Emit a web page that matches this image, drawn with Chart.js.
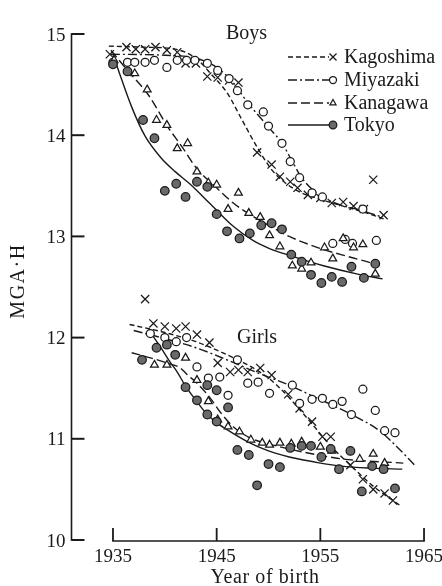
<!DOCTYPE html>
<html>
<head>
<meta charset="utf-8">
<script src="https://cdn.jsdelivr.net/npm/chart.js@4.4.1/dist/chart.umd.min.js"></script>
<style>
  html, body { margin: 0; padding: 0; background: #fff; }
  #wrap { width: 442px; height: 586px; }
</style>
</head>
<body>
<div id="wrap"><canvas id="c" width="442" height="586"></canvas></div>
<script>
// ---- data -------------------------------------------------------------
const prefectures = ['Kagoshima', 'Miyazaki', 'Kanagawa', 'Tokyo'];
const groupLabels = ['Boys', 'Girls'];
const xTicks = [1935, 1945, 1955, 1965];
const yTicks = [10, 11, 12, 13, 14, 15];
const xTitle = 'Year of birth';
const yTitle = 'MGA\u00B7H';

// observed values: [year of birth, MGA·H]
const boysKagoshima = [[1935,15.18],[1934.7,14.80],[1936.3,14.87],[1937.2,14.85],[1938.1,14.85],[1939.1,14.87],[1940.2,14.84],[1941.2,14.82],[1942,14.71],[1943,14.71],[1944.1,14.58],[1945.1,14.57],[1946.2,14.54],[1947.1,14.52],[1948.9,13.83],[1950.3,13.71],[1951.1,13.59],[1952.1,13.54],[1952.8,13.48],[1953.8,13.41],[1955,13.38],[1956.1,13.33],[1957.2,13.34],[1958.2,13.30],[1959.2,13.27],[1960.1,13.56],[1961.1,13.21]];
const boysMiyazaki = [[1935,14.72],[1936.4,14.72],[1937.1,14.72],[1938.1,14.72],[1939,14.74],[1940.2,14.67],[1941.2,14.74],[1942.1,14.74],[1942.9,14.74],[1944.1,14.71],[1945.1,14.64],[1946.2,14.56],[1947,14.44],[1948,14.30],[1949.5,14.23],[1950,14.09],[1951.3,13.92],[1952.1,13.74],[1953,13.58],[1954.2,13.43],[1955.2,13.39],[1956.2,12.93],[1957.4,12.97],[1958.1,12.93],[1959.1,13.27],[1960.4,12.96]];
const boysKanagawa = [[1935.1,14.74],[1937.1,14.61],[1938.3,14.45],[1939.2,14.15],[1940.2,14.10],[1941.2,13.87],[1942.2,13.92],[1943.1,13.64],[1944.2,13.53],[1945,13.51],[1946.1,13.27],[1947.1,13.43],[1948.1,13.23],[1949.2,13.19],[1950.1,13.01],[1951.1,12.90],[1952.3,12.71],[1953.2,12.68],[1954.1,12.74],[1955.4,12.89],[1956.2,12.78],[1957.2,12.98],[1958.2,12.89],[1959.1,12.92],[1960.3,12.63]];
const boysTokyo = [[1935,14.70],[1936.4,14.63],[1937.9,14.15],[1939,13.97],[1940,13.45],[1941.1,13.52],[1942,13.39],[1943.1,13.54],[1944.1,13.49],[1945,13.22],[1946,13.05],[1947.2,12.98],[1948.2,13.03],[1949.3,13.11],[1950.3,13.13],[1951.3,13.07],[1952.2,12.82],[1953.2,12.75],[1954.1,12.62],[1955.1,12.54],[1956.1,12.60],[1957.1,12.55],[1958,12.70],[1959.2,12.59],[1960.3,12.73]];

const girlsKagoshima = [[1938.1,12.38],[1938.9,12.14],[1940,12.11],[1941.1,12.09],[1942,12.11],[1943.1,12.03],[1944.3,11.95],[1945.1,11.75],[1946.3,11.66],[1947.1,11.68],[1948,11.66],[1949.2,11.70],[1950.3,11.63],[1951.9,11.44],[1953,11.30],[1954.2,11.17],[1955.2,11.02],[1956,11.02],[1957.9,10.74],[1959.1,10.60],[1960.1,10.50],[1961.2,10.46],[1962,10.39]];
const girlsMiyazaki = [[1938.6,12.04],[1940,12.00],[1941.1,11.96],[1942.1,12.00],[1943.1,11.71],[1944.2,11.60],[1945.3,11.61],[1946.1,11.43],[1947,11.78],[1948,11.55],[1949,11.56],[1950.1,11.45],[1952.3,11.53],[1953,11.35],[1954.2,11.39],[1955.2,11.40],[1956.2,11.34],[1957.1,11.37],[1958,11.24],[1959.1,11.49],[1960.3,11.28],[1961.2,11.08],[1962.2,11.06]];
const girlsKanagawa = [[1939,11.73],[1940.2,11.73],[1942,11.80],[1943.1,11.58],[1944.2,11.37],[1945.1,11.19],[1946.1,11.12],[1947.2,11.07],[1948.3,10.99],[1949.4,10.96],[1950.1,10.94],[1951.1,10.96],[1952.2,10.95],[1953.2,10.97],[1955,10.92],[1956.1,10.88],[1958.8,10.80],[1960.1,10.85],[1961.2,10.76]];
const girlsTokyo = [[1937.8,11.78],[1939.2,11.90],[1940.2,11.93],[1941,11.83],[1942,11.51],[1943.1,11.38],[1944.1,11.24],[1944.1,11.53],[1945,11.17],[1945,11.48],[1946.1,11.31],[1947,10.89],[1948.1,10.84],[1948.9,10.54],[1950,10.75],[1951.1,10.72],[1952.1,10.91],[1953.2,10.93],[1954.1,10.93],[1955.1,10.82],[1956,10.90],[1956.8,10.70],[1957.9,10.88],[1959,10.48],[1960,10.73],[1961.1,10.70],[1962.2,10.51]];

// fitted trend curves: [year of birth, MGA·H]
const boysKagoshimaFit = [[1934.6,14.88],[1938,14.87],[1941,14.85],[1943,14.76],[1944.5,14.60],[1946,14.42],[1947.4,14.16],[1948.8,13.90],[1950.3,13.66],[1951.6,13.53],[1953.2,13.43],[1955.2,13.36],[1957.5,13.29],[1959.5,13.23],[1961.2,13.17]];
const boysMiyazakiFit = [[1934.8,14.80],[1940,14.79],[1943,14.76],[1945,14.67],[1946.5,14.53],[1948,14.32],[1950,14.08],[1951.3,13.92],[1952.3,13.74],[1953.2,13.58],[1954.5,13.44],[1956.4,13.33],[1958.8,13.26],[1961,13.19]];
const boysKanagawaFit = [[1934.8,14.84],[1936.4,14.64],[1938.4,14.40],[1940.3,14.08],[1941.7,13.88],[1943,13.68],[1945,13.48],[1946.6,13.33],[1948,13.23],[1950,13.11],[1952,13.00],[1955.3,12.87],[1957,12.82],[1959.5,12.75],[1960.5,12.72]];
const boysTokyoFit = [[1935,14.80],[1935.6,14.62],[1936.8,14.28],[1938.1,13.99],[1939.6,13.78],[1941,13.64],[1942.4,13.52],[1944.4,13.32],[1946.6,13.10],[1948.5,12.96],[1950.1,12.88],[1952.1,12.81],[1955.3,12.71],[1958.5,12.63],[1961,12.58]];

const girlsKagoshimaFit = [[1936.6,12.13],[1940,12.05],[1943,11.96],[1946,11.83],[1948,11.73],[1950,11.60],[1951.5,11.46],[1953,11.29],[1954.5,11.11],[1956,10.93],[1958,10.73],[1960,10.54],[1962,10.39],[1962.7,10.34]];
const girlsMiyazakiFit = [[1937,12.07],[1940,11.99],[1943,11.90],[1946,11.78],[1949,11.65],[1952,11.53],[1954.3,11.42],[1956,11.34],[1958,11.24],[1960.7,11.08],[1962.4,10.92],[1964.1,10.74]];
const girlsKanagawaFit = [[1936.8,11.85],[1938.6,11.80],[1940.5,11.74],[1941.5,11.70],[1942.1,11.64],[1943.1,11.55],[1944.4,11.40],[1945.3,11.27],[1946.6,11.12],[1948.2,11.01],[1950,10.95],[1953.3,10.87],[1957.2,10.80],[1963,10.76]];
const girlsTokyoFit = [[1938.4,12.08],[1939.5,11.92],[1940.5,11.76],[1941.2,11.66],[1942,11.52],[1943,11.38],[1944,11.25],[1945,11.16],[1946,11.09],[1948,10.97],[1950,10.88],[1952,10.82],[1955,10.76],[1957,10.73],[1960,10.71],[1962.9,10.70]];

// ---- styling ----------------------------------------------------------
const ink = '#1a1a1a';
const serif = '"Liberation Serif", "DejaVu Serif", serif';

const styles = {
  Kagoshima: { dash: [5, 3],        point: 'crossRot', radius: 5.8, keyRadius: 5,   fill: 'rgba(0,0,0,0)' },
  Miyazaki:  { dash: [9, 3, 2, 3],  point: 'circle',   radius: 4,   keyRadius: 3.5, fill: '#ffffff' },
  Kanagawa:  { dash: [9, 4],        point: 'triangle', radius: 4.5, keyRadius: 3.5, fill: '#ffffff' },
  Tokyo:     { dash: [],            point: 'circle',   radius: 4.3, keyRadius: 3.8, fill: '#6a6a6a' }
};

const observed = {
  Boys:  { Kagoshima: boysKagoshima,  Miyazaki: boysMiyazaki,  Kanagawa: boysKanagawa,  Tokyo: boysTokyo },
  Girls: { Kagoshima: girlsKagoshima, Miyazaki: girlsMiyazaki, Kanagawa: girlsKanagawa, Tokyo: girlsTokyo }
};
const fitted = {
  Boys:  { Kagoshima: boysKagoshimaFit,  Miyazaki: boysMiyazakiFit,  Kanagawa: boysKanagawaFit,  Tokyo: boysTokyoFit },
  Girls: { Kagoshima: girlsKagoshimaFit, Miyazaki: girlsMiyazakiFit, Kanagawa: girlsKanagawaFit, Tokyo: girlsTokyoFit }
};

const toXY = arr => arr.map(([x, y]) => ({ x, y }));

const datasets = [];
groupLabels.forEach(group => {
  prefectures.forEach(pref => {
    const s = styles[pref];
    datasets.push({
      label: group + ' ' + pref + ' trend',
      data: toXY(fitted[group][pref]),
      showLine: true,
      borderColor: ink,
      borderWidth: 1.4,
      borderDash: s.dash,
      cubicInterpolationMode: 'monotone',
      pointRadius: 0,
      pointHoverRadius: 0,
      fill: false,
      clip: false,
      order: 2
    });
  });
});
groupLabels.forEach(group => {
  prefectures.slice().reverse().forEach(pref => {
    const s = styles[pref];
    datasets.push({
      label: group + ' ' + pref,
      data: toXY(observed[group][pref]),
      showLine: false,
      pointStyle: s.point,
      pointRadius: s.radius,
      pointHoverRadius: s.radius,
      pointBorderWidth: 1.25,
      pointBorderColor: ink,
      pointBackgroundColor: s.fill,
      clip: false,
      order: 1
    });
  });
});

// ---- axes, labels and key drawn on the chart's own scales -------------
const frame = {
  id: 'frame',
  beforeDatasetsDraw(chart) {
    const { ctx, chartArea, scales: { x, y } } = chart;
    ctx.save();
    ctx.strokeStyle = ink;
    ctx.lineCap = 'butt';
    // vertical axis with inward ticks
    const ax = chartArea.left;
    ctx.lineWidth = 1.6;
    ctx.beginPath();
    ctx.moveTo(ax, y.getPixelForValue(yTicks[yTicks.length - 1]) - 0.8);
    ctx.lineTo(ax, y.getPixelForValue(yTicks[0]) + 0.8);
    ctx.stroke();
    ctx.lineWidth = 2;
    yTicks.forEach(v => {
      const py = y.getPixelForValue(v);
      ctx.beginPath(); ctx.moveTo(ax, py); ctx.lineTo(ax + 13, py); ctx.stroke();
    });
    // horizontal axis with upward ticks, spanning the labelled years only
    const ay = chartArea.bottom + 1;
    ctx.lineWidth = 1.6;
    ctx.beginPath();
    ctx.moveTo(x.getPixelForValue(xTicks[0]) - 0.8, ay);
    ctx.lineTo(x.getPixelForValue(xTicks[xTicks.length - 1]) + 0.8, ay);
    ctx.stroke();
    ctx.lineWidth = 1.8;
    xTicks.forEach(v => {
      const px = x.getPixelForValue(v);
      ctx.beginPath(); ctx.moveTo(px, ay); ctx.lineTo(px, ay - 13); ctx.stroke();
    });
    ctx.restore();
  },
  afterDraw(chart) {
    const { ctx, chartArea, scales: { x, y } } = chart;
    ctx.save();
    ctx.fillStyle = ink;
    // tick labels
    ctx.font = '19px ' + serif;
    ctx.textAlign = 'right';
    ctx.textBaseline = 'alphabetic';
    yTicks.forEach(v => ctx.fillText(String(v), chartArea.left - 6, y.getPixelForValue(v) + 6.5));
    ctx.textAlign = 'center';
    xTicks.forEach(v => ctx.fillText(String(v), x.getPixelForValue(v), chartArea.bottom + 22));
    // axis titles
    ctx.font = '20px ' + serif;
    ctx.letterSpacing = '0.6px';
    ctx.fillText(xTitle, 265, 583);
    ctx.save();
    ctx.translate(24, 281);
    ctx.rotate(-Math.PI / 2);
    ctx.letterSpacing = '1.5px';
    ctx.fillText(yTitle, 0, 0);
    ctx.restore();
    ctx.letterSpacing = '0px';
    // panel labels
    ctx.textAlign = 'left';
    ctx.font = '20px ' + serif;
    ctx.fillText(groupLabels[0], 226, 39);
    ctx.fillText(groupLabels[1], 237, 343);
    // key
    const rowBase = [63, 86, 109, 131];
    prefectures.forEach((pref, i) => {
      const s = styles[pref];
      const ly = rowBase[i] - 6;
      ctx.strokeStyle = ink;
      ctx.lineWidth = 1.4;
      ctx.setLineDash(s.dash);
      ctx.beginPath(); ctx.moveTo(288, ly); ctx.lineTo(329, ly); ctx.stroke();
      ctx.setLineDash([]);
      ctx.fillStyle = s.fill;
      ctx.lineWidth = 1.25;
      Chart.helpers.drawPoint(ctx, { pointStyle: s.point, radius: s.keyRadius, borderWidth: 1.25, rotation: 0 }, 333, ly);
      ctx.fillStyle = ink;
      ctx.fillText(pref, 344, rowBase[i]);
    });
    ctx.restore();
  }
};

// x: 1931–1966 puts 1935 at 113 px and 1965 at 424 px; y: 10–15 spans 540–34 px
new Chart(document.getElementById('c'), {
  type: 'scatter',
  data: { datasets },
  options: {
    responsive: false,
    devicePixelRatio: 1,
    animation: false,
    events: [],
    layout: { padding: { left: 71.5, right: 7.6, top: 34, bottom: 46 } },
    scales: {
      x: { type: 'linear', min: 1931, max: 1966, display: false },
      y: { type: 'linear', min: 10, max: 15, display: false }
    },
    plugins: { legend: { display: false }, tooltip: { enabled: false } }
  },
  plugins: [frame]
});
</script>
</body>
</html>
